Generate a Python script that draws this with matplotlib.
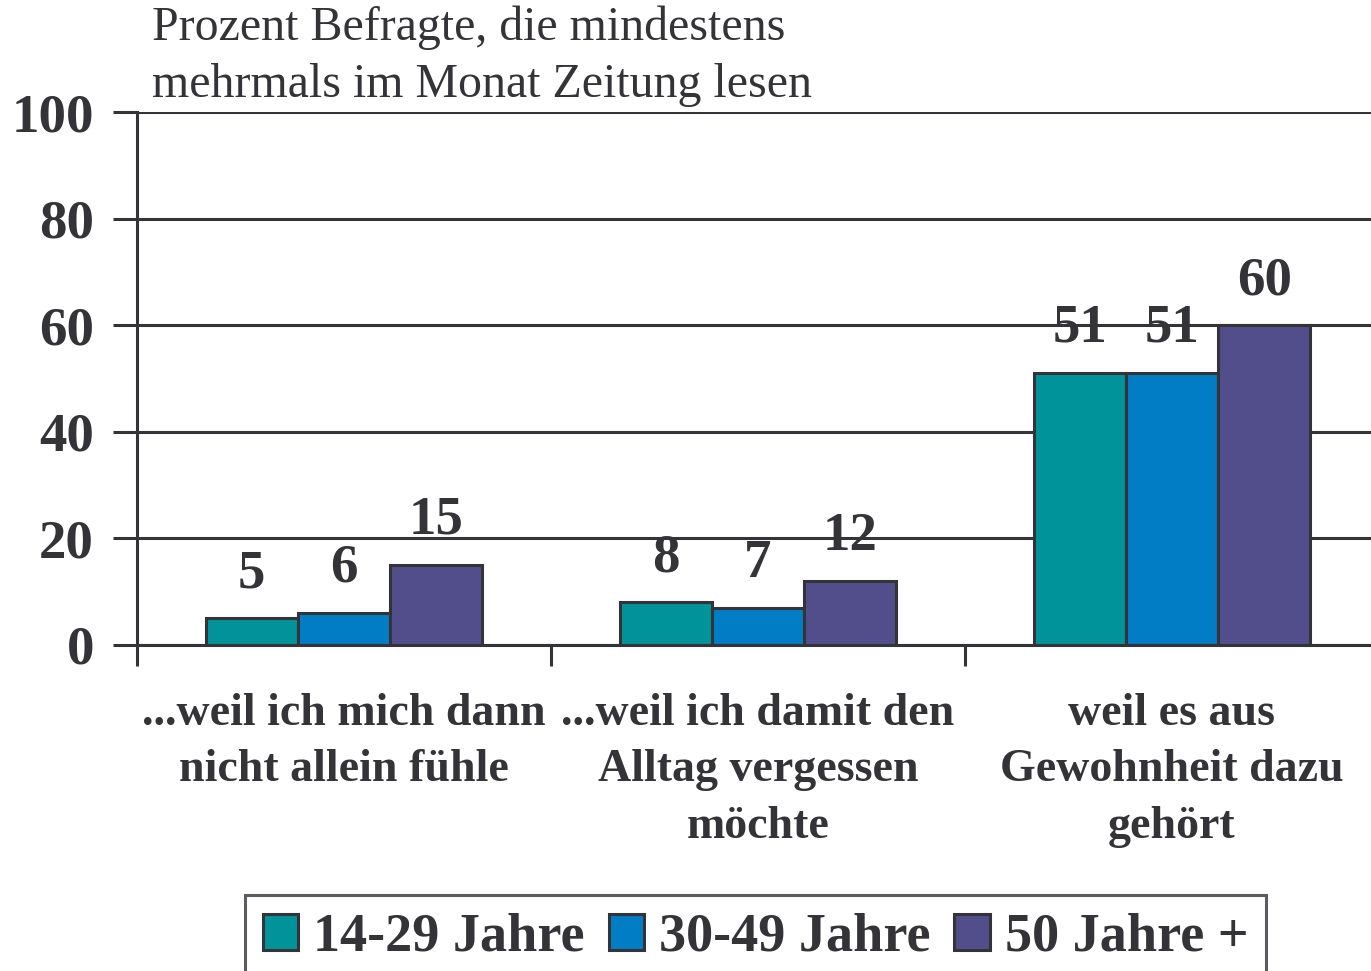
import matplotlib.pyplot as plt
import numpy as np

plt.rcParams['font.family'] = ['Liberation Serif', 'DejaVu Serif']

categories = ['...weil ich mich dann\nnicht allein fühle',
              '...weil ich damit den\nAlltag vergessen\nmöchte',
              'weil es aus\nGewohnheit dazu\ngehört']
series = ['14-29 Jahre', '30-49 Jahre', '50 Jahre +']
values = [[5, 8, 51],
          [6, 7, 51],
          [15, 12, 60]]
colors = ['#00949A', '#007DC5', '#524E8C']
yticks = [0, 20, 40, 60, 80, 100]

dark = '#333338'
fig = plt.figure(figsize=(13.71, 9.71), dpi=100)
ax = fig.add_axes([137/1371, 1-645/971, 1-137/1371, 533/971])

x = np.arange(len(categories))
w = 0.223
for i, (name, vals) in enumerate(zip(series, values)):
    pos = x + (i - 1) * w
    ax.bar(pos, vals, w, color=colors[i], edgecolor=dark, linewidth=2.2,
           label=name, zorder=3)
    for p, v in zip(pos, vals):
        ax.text(p, v + 3.6, str(v), ha='center', va='bottom', fontsize=39.5,
                fontweight='bold', color=dark, zorder=4)

ax.set_xlim(-0.5, -0.5 + 1234/414)
ax.set_ylim(0, 100)
ax.set_yticks(yticks)
ax.set_yticklabels([str(t) for t in yticks], fontsize=39.5, fontweight='bold', color=dark)
ax.yaxis.grid(True, color=dark, linewidth=2.2, zorder=0)
ax.set_xticks(x - 0.5)
ax.set_xticklabels([])
ax.tick_params(axis='y', length=17, width=2.2, color=dark, pad=14)
ax.tick_params(axis='x', length=15, width=2.2, color=dark)
for s in ['top', 'right']:
    ax.spines[s].set_visible(False)
for s in ['left', 'bottom']:
    ax.spines[s].set_color(dark)
    ax.spines[s].set_linewidth(2.2)

for xi, lab in zip(x, categories):
    ax.text(xi, -9, lab, ha='center', va='top', fontsize=33, fontweight='bold',
            color=dark, linespacing=1.45)

fig.text(152/1371, 1-6/971, 'Prozent Befragte, die mindestens\nmehrmals im Monat Zeitung lesen',
         ha='left', va='top', fontsize=34.5, color=dark, linespacing=1.37)

leg = fig.legend(loc='upper left', bbox_to_anchor=(245/1371, 1-895/971), ncol=3,
                 prop={'weight': 'bold', 'size': 39}, frameon=True, fancybox=False,
                 handlelength=0.65, handleheight=0.65, handletextpad=0.28, columnspacing=0.44,
                 borderpad=0.33, borderaxespad=0)
leg.get_frame().set_edgecolor(dark)
leg.get_frame().set_linewidth(2.2)
for t in leg.get_texts():
    t.set_color(dark)

fig.savefig('out.png', dpi=100)
